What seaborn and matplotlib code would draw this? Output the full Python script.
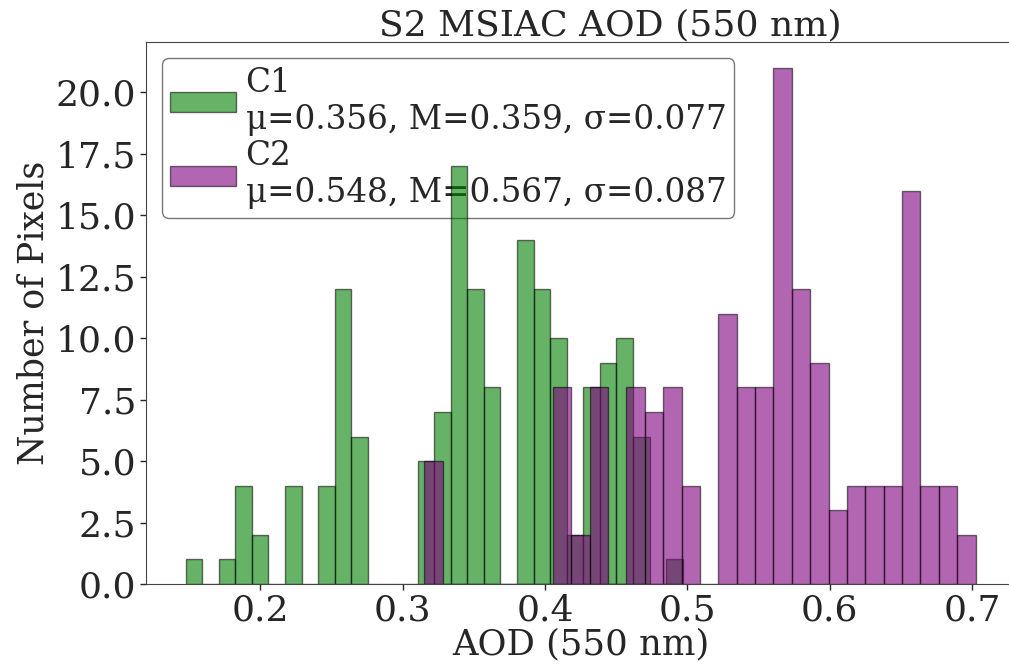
import numpy as np
import pandas as pd
import matplotlib
matplotlib.use("Agg")
import matplotlib.pyplot as plt
import seaborn as sns

# Histogram counts per bin (30 equal-width bins for each class)
c1_counts = [1, 0, 1, 4, 2, 0, 4, 0, 4, 12,
             6, 0, 0, 0, 5, 7, 17, 12, 8, 0,
             14, 12, 10, 2, 8, 9, 10, 6, 0, 1]
c2_counts = [5, 0, 0, 0, 0, 0, 0, 8, 2, 8,
             0, 8, 7, 8, 4, 0, 11, 8, 8, 21,
             12, 9, 3, 4, 4, 4, 16, 4, 4, 2]

# Value range covered by each class
c1_range = (0.1474, 0.4968)
c2_range = (0.3152, 0.7025)

c1_label = "C1\nμ=0.356, M=0.359, σ=0.077"
c2_label = "C2\nμ=0.548, M=0.567, σ=0.087"

title = "S2 MSIAC AOD (550 nm)"
xlabel = "AOD (550 nm)"
ylabel = "Number of Pixels"

sns.set_style("ticks")
plt.rcParams["font.family"] = ["DejaVu Serif"]
plt.rcParams["axes.edgecolor"] = "#444444"

fig = plt.figure(figsize=(10.09, 6.67), dpi=100)
ax = fig.add_axes([0.1447, 0.1244, 0.8613, 0.8126])


def draw(counts, rng, color, label):
    edges = np.linspace(rng[0], rng[1], len(counts) + 1)
    df = pd.DataFrame({
        "aod": (edges[:-1] + edges[1:]) / 2,
        "n": np.asarray(counts, dtype=float),
    })
    sns.histplot(data=df, x="aod", weights="n", bins=edges.tolist(),
                 color=color, alpha=0.6, edgecolor=(0, 0, 0, 0.55),
                 linewidth=1.0, label=label, ax=ax)


draw(c1_counts, c1_range, "green", c1_label)
draw(c2_counts, c2_range, "purple", c2_label)

yt = np.arange(0, 20.1, 2.5)
ax.set_yticks(yt)
ax.set_yticklabels([f"{v:.1f}" for v in yt])
ax.set_xticks([0.2, 0.3, 0.4, 0.5, 0.6, 0.7])
ax.set_xticklabels(["0.2", "0.3", "0.4", "0.5", "0.6", "0.7"])
ax.tick_params(labelsize=26, length=4, width=1, pad=3)

ax.set_title(title, fontsize=26, x=0.534, pad=1)
ax.set_xlabel(xlabel, fontsize=25.5, labelpad=0)
ax.set_ylabel(ylabel, fontsize=25, labelpad=4)

leg = ax.legend(loc="upper left", fontsize=23.5, frameon=True,
                handlelength=2.0, handleheight=0.55, handletextpad=0.3,
                borderaxespad=0.5, borderpad=0.25, labelspacing=0.15)
frame = leg.get_frame()
frame.set_facecolor("none")
frame.set_edgecolor("#555555")
leg.set_zorder(0.5)

fig.savefig("out.png", dpi=100)
